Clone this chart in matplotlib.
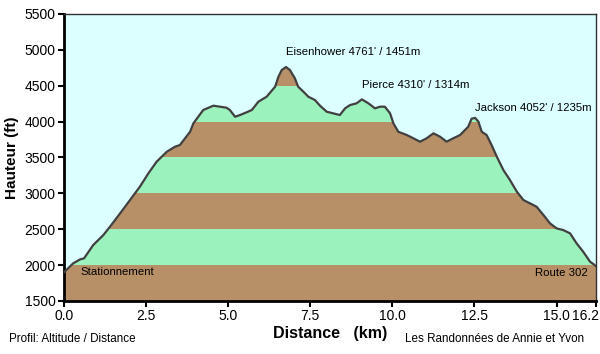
import numpy as np
import matplotlib.pyplot as plt
import matplotlib.transforms as mtransforms

# profile: distance (km) / altitude (ft)
dist_km = [0.0, 0.28, 0.49, 0.61, 0.89, 1.20, 1.40, 1.71, 2.01, 2.31, 2.57, 2.82,
           3.13, 3.38, 3.53, 3.84, 3.94, 4.24, 4.55, 4.75, 4.95, 5.05, 5.21, 5.36,
           5.56, 5.72, 5.92, 6.17, 6.43, 6.53, 6.63, 6.76, 6.88, 7.03, 7.13, 7.29,
           7.44, 7.64, 7.80, 8.00, 8.20, 8.40, 8.56, 8.71, 8.91, 9.07, 9.27, 9.47,
           9.62, 9.77, 9.93, 10.03, 10.18, 10.44, 10.64, 10.84, 11.04, 11.25, 11.45,
           11.65, 11.85, 12.06, 12.26, 12.31, 12.41, 12.52, 12.62, 12.72, 12.87,
           13.02, 13.18, 13.38, 13.58, 13.79, 13.99, 14.19, 14.39, 14.60, 14.80,
           15.00, 15.20, 15.41, 15.61, 15.81, 16.02, 16.12, 16.2]
alt_ft = [1900, 2025, 2080, 2094, 2280, 2420, 2535, 2722, 2907, 3092, 3279, 3441,
          3580, 3650, 3674, 3859, 3976, 4162, 4222, 4208, 4194, 4162, 4068, 4092,
          4130, 4162, 4278, 4347, 4487, 4626, 4719, 4761, 4719, 4604, 4487, 4417,
          4347, 4301, 4220, 4138, 4115, 4092, 4185, 4231, 4255, 4310, 4255, 4185,
          4208, 4208, 4115, 3976, 3859, 3813, 3767, 3720, 3767, 3837, 3790,
          3720, 3767, 3813, 3906, 3929, 4040, 4052, 3999, 3859, 3813,
          3674, 3511, 3325, 3186, 3023, 2907, 2861, 2814, 2698, 2582,
          2512, 2489, 2443, 2303, 2187, 2047, 2015, 1985]

peaks = ["Eisenhower 4761' / 1451m", "Pierce 4310' / 1314m", "Jackson 4052' / 1235m"]
peak_x = [6.76, 9.07, 12.52]
peak_label_y = [4975, 4505, 4185]

x_ticks = [0.0, 2.5, 5.0, 7.5, 10.0, 12.5, 15.0, 16.2]
y_ticks = [1500, 2000, 2500, 3000, 3500, 4000, 4500, 5000, 5500]

brown = '#B89068'
green = '#9CF2BC'
sky = '#DCFFFF'

plt.rcParams['font.family'] = ['Liberation Sans', 'DejaVu Sans']

fig = plt.figure(figsize=(6, 3.54), dpi=100)
ax = fig.add_axes([64/600, 1-301/354, 532/600, 287/354])

# alternating bands, then sky above the profile
for i in range(len(y_ticks) - 1):
    ax.axhspan(y_ticks[i], y_ticks[i+1], color=brown if i % 2 == 0 else green, lw=0, zorder=1)
ax.fill_between(dist_km, alt_ft, 5500, color=sky, lw=0, zorder=2)
ax.plot(dist_km, alt_ft, color='#404040', lw=1.6, zorder=3)

for name, px, py in zip(peaks, peak_x, peak_label_y):
    ax.text(px, py, name, fontsize=8.2, ha='left', va='center', zorder=4)
ax.text(0.49, 1903, 'Stationnement', fontsize=8.2, ha='left', va='center', zorder=4)
ax.text(15.96, 1895, 'Route 302', fontsize=8.2, ha='right', va='center', zorder=4)

ax.set_xlim(0, 16.2)
ax.set_ylim(1500, 5500)
ax.set_xticks(x_ticks)
ax.set_xticklabels(['%.1f' % v for v in x_ticks])
ax.set_yticks(y_ticks)
ax.tick_params(labelsize=10, length=4, width=1.5, pad=2)

# last label pushed in so it stays on the canvas
last = ax.get_xticklabels()[-1]
last.set_horizontalalignment('right')
last.set_transform(last.get_transform() + mtransforms.ScaledTranslation(3/100, 0, fig.dpi_scale_trans))

for s in ['left', 'bottom']:
    ax.spines[s].set_linewidth(2)
for s in ['top', 'right']:
    ax.spines[s].set_linewidth(1)
    ax.spines[s].set_color('#303030')

ax.set_ylabel('Hauteur (ft)', fontsize=11, fontweight='bold', labelpad=4)
ax.set_xlabel('Distance   (km)', fontsize=11.5, fontweight='bold', labelpad=2)

fig.text(9/600, 1-339/354, 'Profil: Altitude / Distance', fontsize=8.4, va='center')
fig.text(584/600, 1-339/354, 'Les Randonnées de Annie et Yvon', fontsize=8.4, va='center', ha='right')

fig.savefig('out.png', dpi=100)
